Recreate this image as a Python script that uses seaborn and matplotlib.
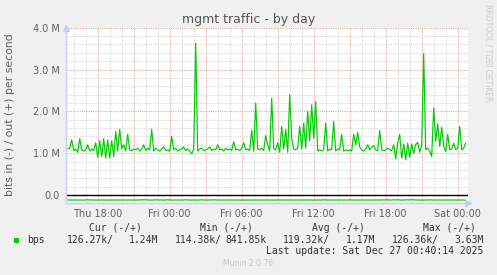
import numpy as np
import pandas as pd
import matplotlib
matplotlib.use("Agg")
import matplotlib.pyplot as plt
import seaborn as sns
from matplotlib.ticker import FixedLocator, MultipleLocator
from matplotlib.patches import Rectangle

# ---- data (M bits/s), 10-minute samples starting Thu 15:30 ----
out_mbps = [
    1.10, 1.12, 1.32, 1.06, 1.10, 1.02, 1.35, 1.08, 1.05, 1.08, 1.20, 1.05, 1.10, 1.06, 1.25, 0.90, 1.30, 0.92, 1.35, 0.88,
    1.32, 0.88, 1.30, 0.92, 1.52, 1.05, 1.57, 1.10, 1.20, 1.05, 1.45, 1.08, 1.06, 1.10, 1.08, 1.12, 1.05, 1.10, 1.20, 1.06,
    1.12, 1.08, 1.57, 1.05, 1.12, 1.08, 1.05, 1.10, 1.15, 1.06, 1.08, 1.05, 1.40, 1.08, 1.12, 1.05, 1.08, 1.10, 1.15, 1.06,
    1.10, 1.05, 0.98, 1.10, 3.63, 1.05, 1.10, 1.12, 1.06, 1.08, 1.10, 1.15, 1.06, 1.10, 1.08, 1.20, 1.08, 1.10, 1.05, 1.12,
    1.08, 1.10, 1.06, 1.28, 1.08, 1.10, 1.06, 1.12, 1.25, 1.08, 1.10, 1.06, 1.55, 1.05, 2.20, 1.10, 1.08, 1.12, 1.06, 1.42,
    1.20, 1.05, 2.32, 1.10, 1.08, 1.25, 1.02, 1.64, 1.10, 1.57, 1.02, 2.40, 1.35, 1.10, 1.08, 1.12, 1.64, 1.10, 1.72, 1.12,
    2.00, 1.30, 2.16, 1.35, 2.24, 1.05, 1.08, 1.05, 1.08, 1.72, 1.05, 1.10, 1.08, 1.76, 1.05, 1.10, 1.08, 1.45, 1.05, 1.08,
    1.06, 1.08, 1.05, 1.45, 1.20, 1.50, 1.15, 1.08, 1.05, 1.10, 1.20, 1.08, 1.14, 1.18, 1.08, 1.06, 1.54, 1.08, 1.06, 1.08,
    1.12, 1.08, 1.06, 1.20, 0.86, 1.24, 1.45, 0.88, 1.22, 0.84, 1.24, 0.90, 1.22, 1.00, 1.20, 1.26, 1.02, 1.20, 3.38, 1.08,
    1.12, 1.05, 0.92, 2.08, 1.28, 1.70, 1.16, 1.62, 1.16, 1.04, 1.45, 1.08, 1.10, 1.24, 1.08, 1.12, 1.64, 1.08, 1.12, 1.24,
]
in_mbps = [
    0.119, 0.120, 0.119, 0.121, 0.119, 0.120, 0.119, 0.120, 0.121, 0.119, 0.114, 0.119, 0.120, 0.119, 0.121, 0.120, 0.119, 0.120, 0.119, 0.121,
    0.120, 0.119, 0.120, 0.121, 0.119, 0.120, 0.119, 0.120, 0.119, 0.121, 0.120, 0.119, 0.120, 0.119, 0.121, 0.120, 0.119, 0.120, 0.119, 0.114,
    0.120, 0.119, 0.121, 0.120, 0.114, 0.119, 0.120, 0.119, 0.121, 0.120, 0.114, 0.119, 0.120, 0.121, 0.119, 0.120, 0.119, 0.120, 0.121, 0.114,
    0.119, 0.120, 0.119, 0.121, 0.120, 0.119, 0.120, 0.114, 0.119, 0.120, 0.121, 0.119, 0.120, 0.114, 0.119, 0.120, 0.119, 0.121, 0.120, 0.119,
    0.120, 0.119, 0.121, 0.120, 0.119, 0.120, 0.119, 0.121, 0.120, 0.119, 0.120, 0.119, 0.121, 0.120, 0.119, 0.120, 0.119, 0.121, 0.120, 0.119,
    0.120, 0.119, 0.121, 0.120, 0.119, 0.120, 0.119, 0.121, 0.120, 0.119, 0.120, 0.119, 0.121, 0.120, 0.119, 0.120, 0.119, 0.121, 0.120, 0.119,
    0.120, 0.119, 0.121, 0.120, 0.119, 0.120, 0.119, 0.121, 0.114, 0.119, 0.120, 0.119, 0.121, 0.120, 0.119, 0.120, 0.119, 0.121, 0.120, 0.119,
    0.120, 0.114, 0.121, 0.120, 0.119, 0.120, 0.119, 0.121, 0.120, 0.119, 0.120, 0.119, 0.121, 0.120, 0.119, 0.120, 0.119, 0.121, 0.114, 0.119,
    0.114, 0.120, 0.119, 0.114, 0.120, 0.114, 0.119, 0.121, 0.120, 0.119, 0.114, 0.119, 0.114, 0.114, 0.119, 0.120, 0.119, 0.121, 0.120, 0.119,
    0.120, 0.114, 0.121, 0.120, 0.119, 0.120, 0.119, 0.121, 0.120, 0.119, 0.120, 0.119, 0.121, 0.120, 0.119, 0.120, 0.119, 0.121, 0.120, 0.126,
]
start_hour = -8.5          # hours relative to Fri 00:00
step_hours = 1.0 / 6.0
tick_hours = [-6, 0, 6, 12, 18, 24]
tick_labels = ["Thu 18:00", "Fri 00:00", "Fri 06:00", "Fri 12:00", "Fri 18:00", "Sat 00:00"]
ytick_values = [0, 1, 2, 3, 4]
ytick_labels = ["0.0", "1.0 M", "2.0 M", "3.0 M", "4.0 M"]
legend_headers = ["Cur (-/+)", "Min (-/+)", "Avg (-/+)", "Max (-/+)"]
legend_in = ["126.27k/", "114.38k/", "119.32k/", "126.36k/"]
legend_out = ["1.24M", "841.85k", "1.17M", "3.63M"]

W, H = 497, 275
GREEN = "#00cc00"

sns.set_theme(style="white")
plt.rcParams["font.family"] = ["DejaVu Sans"]

hours = start_hour + np.arange(len(out_mbps)) * step_hours
df = pd.DataFrame({
    "hour": np.concatenate([hours, hours]),
    "value": np.concatenate([np.array(out_mbps), -np.array(in_mbps)]),
    "dir": ["out"] * len(out_mbps) + ["in"] * len(in_mbps),
})

fig = plt.figure(figsize=(W / 100, H / 100), dpi=100, facecolor="#f0f0f0")

def fx(px):
    return px / W

def fy(py):
    return 1 - py / H

left, right, top, bottom = 66, 468, 27.7, 203
ax = fig.add_axes([fx(left), fy(bottom), (right - left) / W, (bottom - top) / H])
ax.set_facecolor("white")

px_per_hour = 12.0
x0_hour = -6 - (97.7 - left) / px_per_hour
x1_hour = -6 + (right - 97.7) / px_per_hour
ax.set_xlim(x0_hour, x1_hour)
px_per_m = (195 - top) / 4.0
ax.set_ylim(-(bottom - 195) / px_per_m, 4.0)

# grid
major_x = [h for h in range(-9, 27, 3) if x0_hour <= h <= x1_hour]
ax.xaxis.set_major_locator(FixedLocator(major_x))
ax.set_xticklabels([tick_labels[tick_hours.index(h)] if h in tick_hours else "" for h in major_x])
ax.xaxis.set_minor_locator(MultipleLocator(1))
ax.yaxis.set_major_locator(FixedLocator(ytick_values))
ax.set_yticklabels(ytick_labels)
ax.yaxis.set_minor_locator(MultipleLocator(0.2))
ax.grid(which="minor", color="#d8d8d8", linestyle=(0, (1, 1)), linewidth=0.8)
ax.grid(which="major", color="#e8a8a8", linestyle=(0, (1, 1)), linewidth=0.8)
ax.set_axisbelow(True)

sns.lineplot(data=df, x="hour", y="value", units="dir", estimator=None,
             color=GREEN, linewidth=0.85, ax=ax, legend=False)
ax.axhline(0, color="black", linewidth=1.0, zorder=1.5)

for s in ["top", "right"]:
    ax.spines[s].set_visible(False)
for s in ["left", "bottom"]:
    ax.spines[s].set_color("#c8ccf4")
    ax.spines[s].set_linewidth(1.0)
ax.plot([0], [1.0], marker="^", markersize=4, color="#c8ccf4", transform=ax.transAxes, clip_on=False)
ax.plot([1.0], [0], marker=">", markersize=4, color="#c8ccf4", transform=ax.transAxes, clip_on=False)

ax.tick_params(axis="both", which="both", length=0, labelsize=7, labelcolor="#606060")
ax.tick_params(axis="y", pad=4.5)
ax.tick_params(axis="x", pad=4.5)
ax.set_xlabel("")
ax.set_ylabel("")
fig.text(fx(10.5), fy(114.3), "bits in (-) / out (+) per second", rotation=90, ha="center", va="center",
         fontsize=7.8, color="#606060")

fig.text(fx(249), fy(19), "mgmt traffic - by day", ha="center", va="center", fontsize=9, color="#555555")
fig.text(fx(488), fy(4), "RRDTOOL / TOBI OETIKER", rotation=270, ha="center", va="top",
         fontsize=5.5, color="#cccccc")

mono = dict(family="DejaVu Sans Mono", fontsize=7, color="#333333", va="center")
head_x = [89.3, 200, 311.7, 422.7]
in_x = [67, 175, 283.3, 391.7]
out_r = [158.3, 266.7, 375, 483.3]
for hx, lbl in zip(head_x, legend_headers):
    fig.text(fx(hx), fy(228), lbl, ha="left", **mono)
fig.patches.append(Rectangle((fx(13.5), fy(243)), 5.5 / W, 5.5 / H, transform=fig.transFigure,
                             facecolor=GREEN, edgecolor="none"))
fig.text(fx(27), fy(240), "bps", ha="left", **mono)
for ix, lbl in zip(in_x, legend_in):
    fig.text(fx(ix), fy(240), lbl, ha="left", **mono)
for ox, lbl in zip(out_r, legend_out):
    fig.text(fx(ox), fy(240), lbl, ha="right", **mono)
fig.text(fx(483.3), fy(251), "Last update: Sat Dec 27 00:40:14 2025", ha="right", **mono)
fig.text(fx(248), fy(264), "Munin 2.0.76", ha="center", va="center", fontsize=5.5, color="#c8c8c8")

fig.savefig("out.png", dpi=100, facecolor=fig.get_facecolor())
